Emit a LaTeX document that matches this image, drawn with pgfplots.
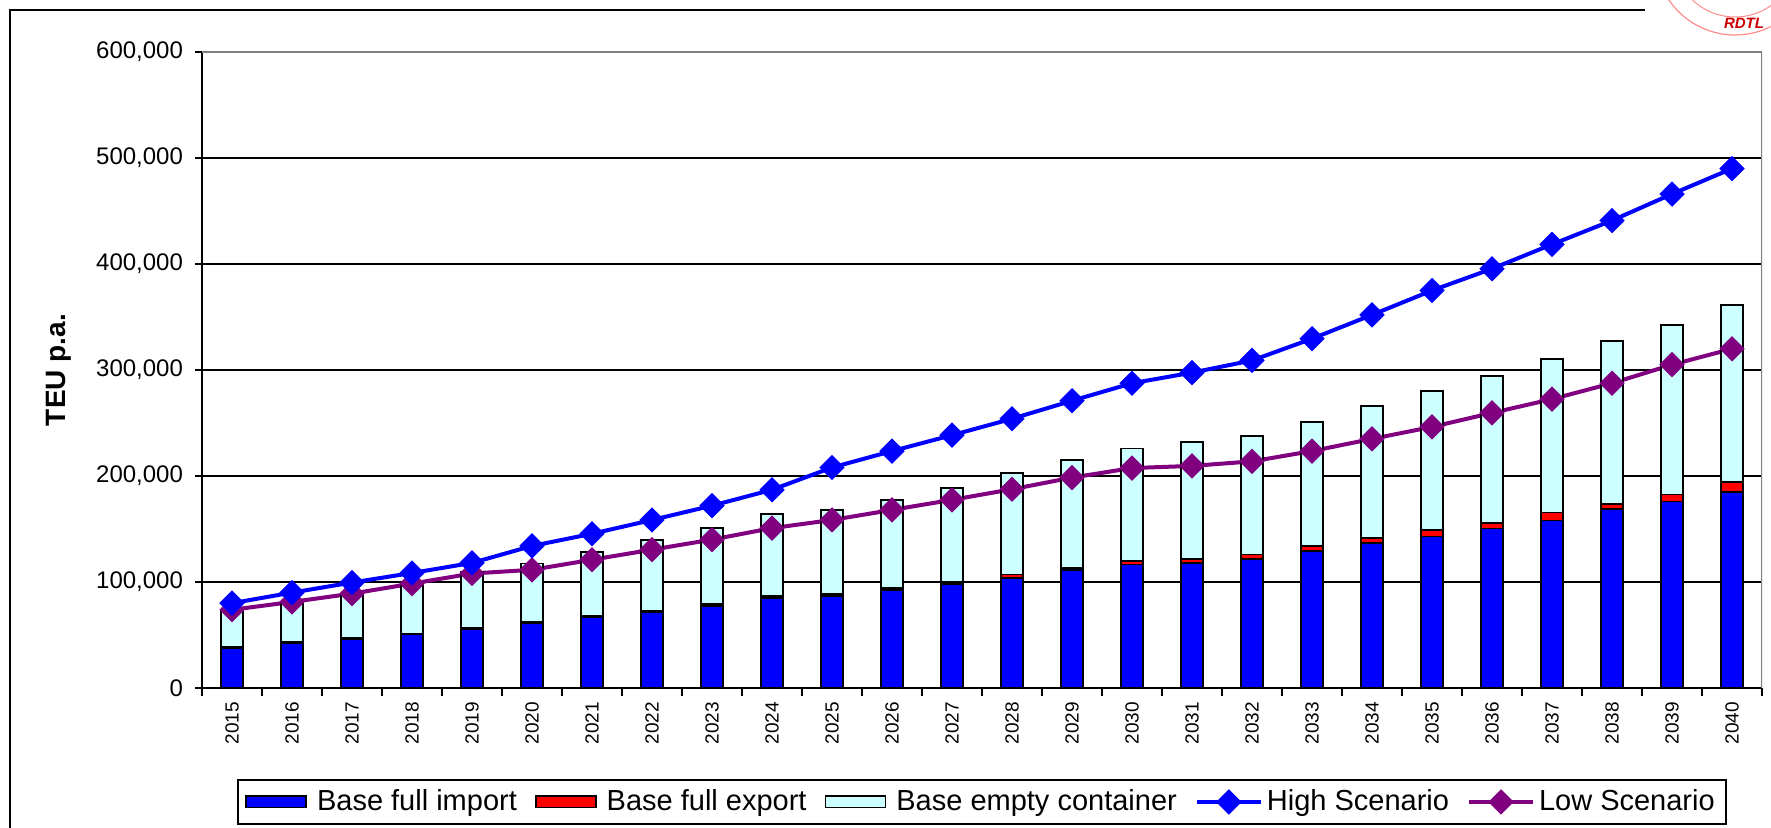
\documentclass[border=0pt]{standalone}
\usepackage{fontspec}
\setmainfont{Liberation Sans}
\usepackage{pgfplots}
\usepackage{pgfplotstable}
\pgfplotsset{compat=1.18}

\definecolor{impblue}{RGB}{0,0,255}
\definecolor{expred}{RGB}{255,0,0}
\definecolor{emptycyan}{RGB}{204,255,255}
\definecolor{lowpurple}{RGB}{128,0,128}

\pgfplotsset{
    barlegend/.style={legend image code/.code={\draw[##1] (0pt,-2.8pt) rectangle (30pt,2.8pt); \path (33pt,0pt);}},
    linelegend/.style={legend image code/.code={\draw[mark repeat=2,mark phase=2,##1] plot coordinates {(0pt,0pt) (16pt,0pt) (32pt,0pt)};}},
}

% TEU p.a.
\pgfplotstableread{
year imp exp emp high low
2015 37500 1000 34700 80000 73800
2016 42500 1000 37500 90000 81200
2017 46500 1000 41500 99500 89000
2018 50500 1000 48000 108500 98500
2019 56000 1000 52500 118000 108000
2020 61500 1000 54900 134000 111500
2021 67000 1200 60300 145500 121000
2022 71500 1500 66600 158500 130500
2023 77500 1500 71600 172000 140000
2024 85000 1500 77500 187000 150800
2025 86500 2000 79500 208000 158500
2026 92500 2000 83000 223500 168000
2027 98000 2000 88500 238500 177500
2028 103500 3500 95500 254000 187500
2029 111000 2500 101500 271000 198500
2030 116500 3500 106000 287500 207500
2031 118000 4000 110000 297500 209500
2032 121500 4500 112000 309000 213800
2033 129500 4500 117000 329500 223500
2034 137000 4500 124500 352000 235000
2035 143000 6000 131000 375000 246300
2036 150500 5500 138500 395500 259500
2037 158000 7500 144500 418500 272500
2038 168500 5000 154000 441000 287500
2039 176000 6500 160000 466000 305000
2040 185000 9000 167500 490000 320000
}\data

\begin{document}
\begin{tikzpicture}
\useasboundingbox (-101pt,-70pt) rectangle (784.5pt,344pt);
\begin{axis}[
    scale only axis, width=780pt, height=318pt,
    ybar stacked, bar width=11pt,
    xmin=-0.5, xmax=25.5, ymin=0, ymax=600000,
    axis x line*=bottom, axis y line*=left,
    axis line style={-, black, line width=1pt},
    xtick={0,...,25},
    xticklabels={2015,2016,2017,2018,2019,2020,2021,2022,2023,2024,2025,2026,2027,2028,2029,2030,2031,2032,2033,2034,2035,2036,2037,2038,2039,2040},
    minor xtick={-0.5,0.5,...,25.5},
    major x tick style={draw=none},
    minor x tick style={black, line width=0.8pt},
    minor tick length=4pt,
    ytick={0,100000,...,600000},
    major tick length=3.5pt,
    tick align=outside,
    y tick style={black, line width=0.8pt},
    scaled y ticks=false,
    /pgf/number format/assume math mode=true,
    y tick label style={/pgf/number format/fixed, /pgf/number format/1000 sep={,}, font=\fontsize{12}{14}\selectfont, xshift=-2.5pt},
    x tick label style={font=\fontsize{9.5}{11}\selectfont, rotate=90, anchor=east},
    ymajorgrids, grid style={black, line width=0.7pt},
    every axis y label/.style={at={(axis description cs:-0.0917,0.5)}, rotate=90, anchor=center},
    ylabel={\fontsize{14}{16}\selectfont\bfseries TEU p.a.},
    legend columns=5,
    legend style={at={(0.5,-0.143)}, anchor=north, draw=black, line width=1pt,
        font=\fontsize{14.5}{16}\selectfont, inner xsep=3.5pt, inner ysep=3pt,
        /tikz/every even column/.append style={column sep=7pt}},
    legend cell align=left,
]
\addplot[fill=impblue, draw=black, line width=0.9pt, barlegend]
    table[x expr=\coordindex, y=imp] {\data};
\addlegendentry{Base full import}
\addplot[fill=expred, draw=black, line width=0.9pt, barlegend]
    table[x expr=\coordindex, y=exp] {\data};
\addlegendentry{Base full export}
\addplot[fill=emptycyan, draw=black, line width=0.9pt, barlegend]
    table[x expr=\coordindex, y=emp] {\data};
\addlegendentry{Base empty container}
\addplot[sharp plot, stack plots=false, color=impblue, line width=2pt,
    mark=square*, mark size=3.5pt, mark options={rotate=45, solid}, linelegend]
    table[x expr=\coordindex, y=high] {\data};
\addlegendentry{High Scenario}
\addplot[sharp plot, stack plots=false, color=lowpurple, line width=2pt,
    mark=square*, mark size=3.5pt, mark options={rotate=45, solid}, linelegend]
    table[x expr=\coordindex, y=low] {\data};
\addlegendentry{Low Scenario}
\draw[gray, line width=1.2pt] (rel axis cs:0,1) -- (rel axis cs:1,1) -- (rel axis cs:1,0);
\end{axis}
% outer frame of the figure
\draw[black, line width=1.3pt] (-96pt,-70pt) -- (-96pt,339pt) -- (721.5pt,339pt);
% stamp in the corner
\draw[red!45, line width=0.6pt] (766.5pt,366.5pt) circle (40pt);
\draw[red!45, line width=0.5pt] (766.5pt,366.5pt) circle (31pt);
\node[red!80!black, font=\fontsize{7.5}{8}\selectfont\bfseries\itshape] at (771pt,332.5pt) {RDTL};
\end{tikzpicture}
\end{document}
